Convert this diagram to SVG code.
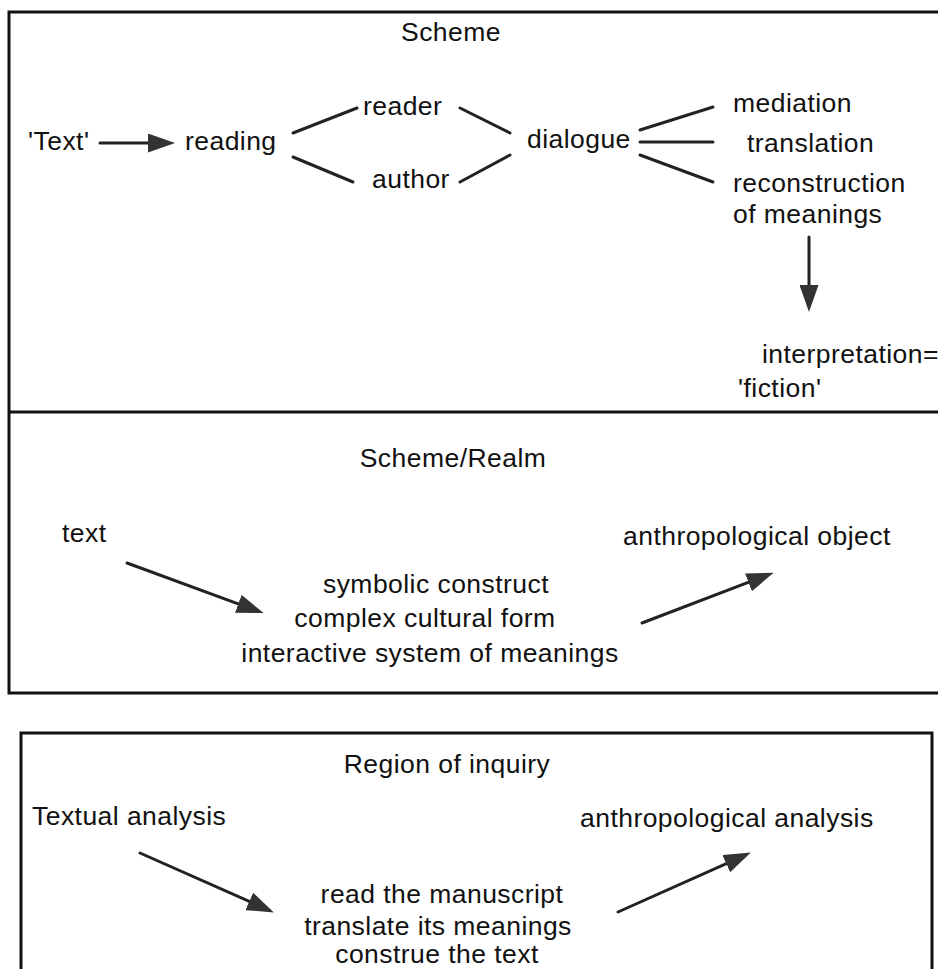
<svg xmlns="http://www.w3.org/2000/svg" width="938" height="969" viewBox="0 0 938 969">
<style>
  text { font-family: "Liberation Sans", Arial, sans-serif; font-size: 26.5px; letter-spacing: 0.45px; fill: #111; }
  .mid { text-anchor: middle; }
  .frame { fill: none; stroke: #111; stroke-width: 3; }
  .link { fill: none; stroke: #222; stroke-width: 3; stroke-linecap: round; }
  .arrow { fill: none; stroke: #222; stroke-width: 3; stroke-linecap: round; marker-end: url(#head); }
</style>
<defs>
  <marker id="head" markerUnits="userSpaceOnUse" viewBox="0 0 27 19" markerWidth="27" markerHeight="19" refX="13" refY="9.5" orient="auto">
    <path d="M0,0 L27,9.5 L0,19 z" fill="#333"/>
  </marker>
</defs>
<rect width="938" height="969" fill="#fff"/>

<g id="frames">
  <path class="frame" d="M938,12 H9 V693 H938"/>
  <line class="frame" x1="9" y1="412" x2="938" y2="412"/>
  <path class="frame" d="M21,972 V733 H932 V972"/>
</g>

<g id="connectors">
  <line class="arrow" x1="100" y1="143" x2="161" y2="143"/>
  <line class="link" x1="293" y1="133" x2="357" y2="108"/>
  <line class="link" x1="293" y1="157" x2="353" y2="182"/>
  <line class="link" x1="460" y1="108" x2="510" y2="133"/>
  <line class="link" x1="460" y1="182" x2="510" y2="155"/>
  <line class="link" x1="640" y1="130" x2="713" y2="107"/>
  <line class="link" x1="640" y1="142" x2="713" y2="142"/>
  <line class="link" x1="640" y1="155" x2="713" y2="182"/>
  <line class="arrow" x1="809" y1="237" x2="809" y2="298"/>
  <line class="arrow" x1="127" y1="563" x2="250.5" y2="608.3"/>
  <line class="arrow" x1="642" y1="623" x2="760.6" y2="577.7"/>
  <line class="arrow" x1="140" y1="853" x2="261.1" y2="906.7"/>
  <line class="arrow" x1="618" y1="912" x2="738.1" y2="858.3"/>
</g>

<g id="scheme-title"><text class="mid" x="451" y="41">Scheme</text></g>
<g id="text-node"><text x="28" y="150">'Text'</text></g>
<g id="reading"><text x="185" y="150">reading</text></g>
<g id="reader"><text x="363" y="115">reader</text></g>
<g id="author"><text x="372" y="188">author</text></g>
<g id="dialogue"><text x="527" y="148">dialogue</text></g>
<g id="mediation"><text x="733" y="112">mediation</text></g>
<g id="translation"><text x="747" y="152">translation</text></g>
<g id="reconstruction"><text x="733" y="192">reconstruction</text><text x="733" y="223">of meanings</text></g>
<g id="interpretation"><text x="762" y="363">interpretation=</text><text x="738" y="397">'fiction'</text></g>

<g id="realm-title"><text class="mid" x="453" y="467">Scheme/Realm</text></g>
<g id="text-lower"><text x="62" y="542">text</text></g>
<g id="symbolic"><text class="mid" x="436" y="593">symbolic construct</text><text class="mid" x="425" y="627">complex cultural form</text><text class="mid" x="430" y="662">interactive system of meanings</text></g>
<g id="anthro-object"><text x="623" y="545">anthropological object</text></g>

<g id="inquiry-title"><text class="mid" x="447" y="773">Region of inquiry</text></g>
<g id="textual-analysis"><text x="32" y="825">Textual analysis</text></g>
<g id="manuscript"><text class="mid" x="442" y="903">read the manuscript</text><text class="mid" x="438" y="935">translate its meanings</text><text class="mid" x="437" y="963">construe the text</text></g>
<g id="anthro-analysis"><text x="580" y="827">anthropological analysis</text></g>
</svg>
